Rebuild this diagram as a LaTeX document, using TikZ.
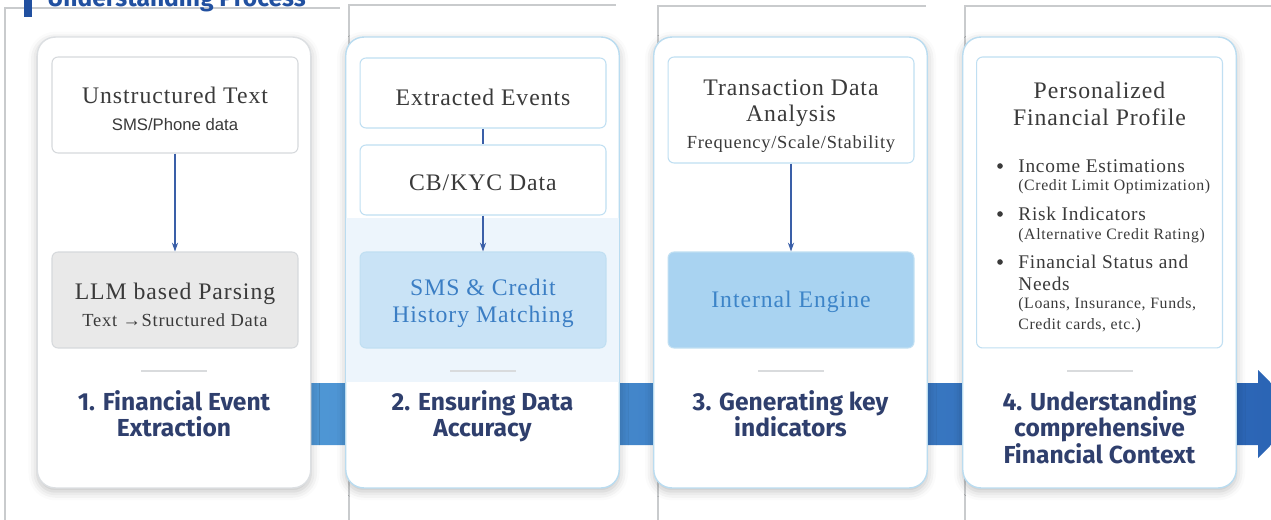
\documentclass[tikz,border=0pt]{standalone}
\usepackage{fontspec}
\setmainfont{Liberation Serif}
\newfontfamily\boxfont{Liberation Serif}[LetterSpace=4]
\newfontfamily\phonefont{Liberation Sans}
\newfontfamily\headfont{Fira Sans}
\usetikzlibrary{arrows.meta,shadows.blur}

\definecolor{cardgray}{HTML}{DCDFE2}
\definecolor{cardblue}{HTML}{BADCF0}
\definecolor{boxgray}{HTML}{D6D9DC}
\definecolor{boxblue}{HTML}{C0DFF2}
\definecolor{llmgray}{HTML}{E9E9E9}
\definecolor{smsblue}{HTML}{C9E3F6}
\definecolor{smstext}{HTML}{3B7EC4}
\definecolor{engineblue}{HTML}{A9D3F1}
\definecolor{enginetext}{HTML}{3C84C8}
\definecolor{txtgray}{HTML}{3A3A3A}
\definecolor{navy}{HTML}{2F3F6D}
\definecolor{arrowblue}{HTML}{3A5FA8}
\definecolor{bandlight}{HTML}{4F97D5}
\definecolor{banddark}{HTML}{2A63B4}
\definecolor{headblue}{HTML}{2150A0}
\definecolor{framegray}{HTML}{C9CBCD}
\definecolor{dividergray}{HTML}{D9DBDD}
\definecolor{tint}{HTML}{EDF5FC}

\begin{document}
\begin{tikzpicture}[x=0.02cm, y=-0.02cm,
  card/.style={draw=cardblue, line width=0.8pt, fill=white, rounded corners=0.36cm,
    minimum width=5.47cm, minimum height=9.02cm,
    blur shadow={shadow xshift=0pt, shadow yshift=-2pt, shadow blur radius=5pt, shadow opacity=25}},
  inbox/.style={draw=boxblue, line width=0.6pt, fill=white, rounded corners=0.12cm,
    minimum width=4.92cm, inner sep=0pt},
  boxtext/.style={align=center, inner sep=0pt, text=txtgray,
    font=\boxfont\fontsize{13.5}{15}\selectfont},
  flow/.style={draw=arrowblue, line width=0.6pt, -{Stealth[length=5pt,width=3.5pt]}},
  link/.style={draw=arrowblue, line width=0.6pt},
  steptitle/.style={anchor=north, align=center, inner sep=0pt, text=navy,
    font=\headfont\bfseries\fontsize{14}{15}\selectfont},
  divider/.style={draw=dividergray, line width=0.6pt},
  pageframe/.style={draw=framegray, line width=0.7pt},
  bulletline/.style={anchor=west, inner sep=0pt, text=txtgray, font=\boxfont\fontsize{11}{13}\selectfont},
  noteline/.style={bulletline, font=\boxfont\fontsize{9}{11}\selectfont},
]
\useasboundingbox (0,0) rectangle (1271,520);

% open frames behind the four panels
\draw[pageframe] (5,520) -- (5,8) -- (340,8);
\draw[pageframe] (349,520) -- (349,5) -- (616,5);
\draw[pageframe] (658,520) -- (658,6) -- (926,6);
\draw[pageframe] (965,520) -- (965,6) -- (1271,6);

% heading, cut at the top edge
\fill[headblue] (24,-5) rectangle (32,17);
\node[anchor=base west, inner sep=0pt, text=headblue,
  font=\headfont\bfseries\fontsize{14}{15}\selectfont] (head) at (47,7) {Understanding Process};

% progress band with arrow head
\shade[left color=bandlight, right color=banddark]
  (300,383) -- (1258,383) -- (1258,370) -- (1302,414) -- (1258,458) -- (1258,445) -- (300,445) -- cycle;

% panels
\node[card, draw=cardgray] (c1) at (174,262.5) {};
\node[card] (c2) at (482.5,262.5) {};
\node[card] (c3) at (790.5,262.5) {};
\node[card] (c4) at (1099.5,262.5) {};
\fill[tint] (346,218) rectangle (619,382);

% panel 1
\node[inbox, draw=boxgray, minimum height=1.92cm] (unstr) at (175,105) {};
\node[boxtext] (unstrtext) at (175,109)
  {Unstructured Text\\{\phonefont\fontsize{9.5}{11}\selectfont SMS/Phone data}};
\node[inbox, draw=boxgray, fill=llmgray, minimum height=1.92cm] (llm) at (175,300) {};
\node[boxtext] (llmtext) at (175,305)
  {LLM based Parsing\\{\fontsize{10.5}{13}\selectfont Text →Structured Data}};
\draw[flow] (unstr) -- (llm);

% panel 2
\node[inbox, minimum height=1.4cm] (events) at (483,93) {};
\node[boxtext] (eventstext) at (483,97) {Extracted Events};
\node[inbox, minimum height=1.4cm] (cbkyc) at (483,180) {};
\node[boxtext] (cbkyctext) at (483,183) {CB/KYC Data};
\node[inbox, fill=smsblue, minimum height=1.92cm] (match) at (483,300) {};
\node[boxtext, text=smstext] (matchtext) at (483,303.5) {SMS \& Credit\\History Matching};
\draw[link] (events) -- (cbkyc);
\draw[flow] (cbkyc) -- (match);

% panel 3
\node[inbox, minimum height=2.12cm] (trans) at (791,110) {};
\node[boxtext] (transtext) at (791,116)
  {Transaction Data\\Analysis\\{\fontsize{10.5}{13}\selectfont Frequency/Scale/Stability}};
\node[inbox, fill=engineblue, minimum height=1.92cm] (engine) at (791,300) {};
\node[boxtext, text=enginetext] (enginetext) at (791,302) {Internal Engine};
\draw[flow] (trans) -- (engine);

% panel 4
\node[inbox, minimum height=5.82cm] (profile) at (1099.5,202.5) {};
\node[boxtext] (ptitle) at (1099.5,104) {Personalized\\Financial Profile};
\fill[txtgray] (1000,166) circle (1.6pt);
\fill[txtgray] (1000,214) circle (1.6pt);
\fill[txtgray] (1000,262) circle (1.6pt);
\node[bulletline] (inc) at (1018,166) {Income Estimations};
\node[noteline] (incnote) at (1018,187) {(Credit Limit Optimization)};
\node[bulletline] (risk) at (1018,214) {Risk Indicators};
\node[noteline] (risknote) at (1018,236) {(Alternative Credit Rating)};
\node[bulletline] (status) at (1018,262) {Financial Status and};
\node[bulletline] (needs) at (1018,284) {Needs};
\node[noteline] (needsnote) at (1018,305) {(Loans, Insurance, Funds,};
\node[noteline] (needsnote2) at (1018,326) {Credit cards, etc.)};

% step captions
\draw[divider] (141,371) -- (207,371);
\draw[divider] (450,371) -- (516,371);
\draw[divider] (758,371) -- (824,371);
\draw[divider] (1067,371) -- (1133,371);
\node[steptitle] (t1) at (174,390) {1. Financial Event\\Extraction};
\node[steptitle] (t2) at (482.5,390) {2. Ensuring Data\\Accuracy};
\node[steptitle] (t3) at (790.5,390) {3. Generating key\\indicators};
\node[steptitle] (t4) at (1099.5,390) {4. Understanding\\comprehensive\\Financial Context};
\end{tikzpicture}
\end{document}
